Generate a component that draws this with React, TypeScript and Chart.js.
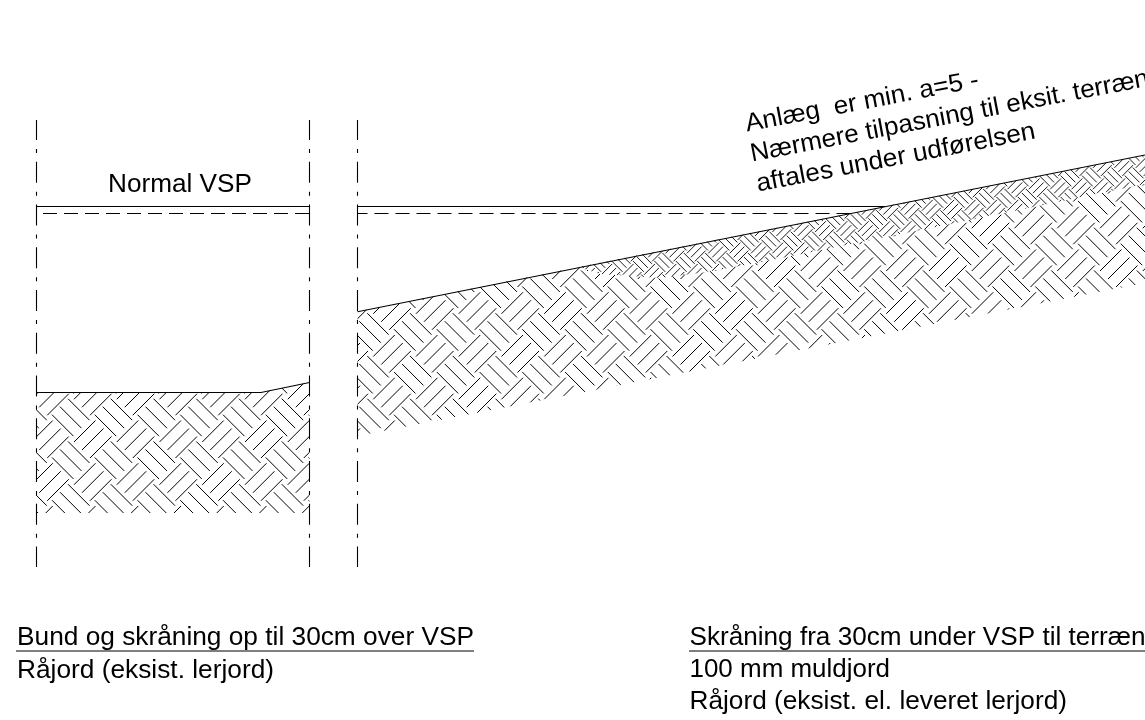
import React, { useEffect, useRef } from "react";
import { Chart, registerables } from "chart.js";

Chart.register(...registerables);

type Pt = { x: number; y: number };
const W = 1145;
const H = 720;

// Drawing geometry, in sheet units
const centerLineXs = [36.5, 309.5, 357.5];
const centerLineTop = 120;
const centerLineBottom = 567;

const vspLeftSolid: Pt[] = [{ x: 36, y: 206.5 }, { x: 309.5, y: 206.5 }];
const vspLeftDashed: Pt[] = [{ x: 36, y: 213.5 }, { x: 309.5, y: 213.5 }];
const vspRightSolid: Pt[] = [{ x: 357.5, y: 206.5 }, { x: 885, y: 206.5 }];
const vspRightDashed: Pt[] = [{ x: 357.5, y: 213.5 }, { x: 853, y: 213.5 }];

const leftGround: Pt[] = [{ x: 36, y: 392.5 }, { x: 261, y: 392.5 }, { x: 309.5, y: 382.5 }];
const rightGround: Pt[] = [{ x: 357.5, y: 311.7 }, { x: 1145, y: 155 }];
const leftUnderline: Pt[] = [{ x: 16, y: 651 }, { x: 474, y: 651 }];
const rightUnderline: Pt[] = [{ x: 689, y: 651 }, { x: 1145, y: 651 }];

// Soil regions
const leftSoil: Pt[] = [
  { x: 36, y: 392 }, { x: 261, y: 392 }, { x: 309.5, y: 382.5 },
  { x: 309.5, y: 513 }, { x: 36, y: 513 },
];
const topsoilLowerEdge: Pt[] = [
  { x: 578, y: 267 }, { x: 600, y: 274 }, { x: 660, y: 278 }, { x: 700, y: 273 },
  { x: 757, y: 263 }, { x: 970, y: 220 }, { x: 1145, y: 184 },
];
const rightTopsoil: Pt[] = [{ x: 578, y: 267 }, { x: 1145, y: 155 }, ...[...topsoilLowerEdge].reverse()];
const rightClay: Pt[] = [
  { x: 357.5, y: 311.7 }, ...topsoilLowerEdge, { x: 1145, y: 283 }, { x: 357.5, y: 436 },
];

// Hatch tile: basket weave, three strokes each way
const hatchPeriod = 42.75;
const hatchLen = 21.5;
const hatchOrigin = { x: 60, y: 406.7 };
const hatchDown = [[-8, 8], [0, 0], [8, -8]];
const hatchUp = [[14, 35.3], [22, 43.3], [30, 51.3]];

const hatchRegions = [
  { points: leftSoil, scale: 1, width: 1 },
  { points: rightClay, scale: 1, width: 1 },
  { points: rightTopsoil, scale: 0.5, width: 0.9 },
];

// Texts
const FONT = '"Liberation Sans", Arial, sans-serif';
const labelTexts = [
  { text: "Normal VSP", x: 108, y: 191.5, size: 25.5, width: 144, angle: 0 },
  { text: "Bund og skråning op til 30cm over VSP", x: 17, y: 645, size: 25.5, width: 457, angle: 0 },
  { text: "Råjord (eksist. lerjord)", x: 17, y: 677.5, size: 25.5, width: 257, angle: 0 },
  { text: "Skråning fra 30cm under VSP til terræn", x: 689.5, y: 645, size: 25.5, width: 456, angle: 0 },
  { text: "100 mm muldjord", x: 689.5, y: 676.5, size: 25.5, width: 200.5, angle: 0 },
  { text: "Råjord (eksist. el. leveret lerjord)", x: 689.5, y: 709, size: 25.5, width: 377.5, angle: 0 },
  { text: "Anlæg  er min. a=5 -", x: 747, y: 131.5, size: 25.5, width: 237, angle: -10.8 },
  { text: "Nærmere tilpasning til eksit. terræn", x: 752, y: 161.5, size: 25.5, width: 405, angle: -10.8 },
  { text: "aftales under udførelsen", x: 758, y: 191.5, size: 25.5, width: 283.5, angle: -10.8 },
];

const hatchPlugin = {
  id: "soilHatch",
  afterDatasetsDraw(chart: any) {
    const { ctx, scales } = chart;
    const sx = (v: number) => scales.x.getPixelForValue(v);
    const sy = (v: number) => scales.y.getPixelForValue(v);
    hatchRegions.forEach(({ points, scale, width }) => {
      ctx.save();
      ctx.beginPath();
      points.forEach((p: Pt, i: number) => (i ? ctx.lineTo(sx(p.x), sy(p.y)) : ctx.moveTo(sx(p.x), sy(p.y))));
      ctx.closePath();
      ctx.clip();
      ctx.strokeStyle = "#000";
      ctx.lineWidth = width;
      ctx.beginPath();
      const period = hatchPeriod * scale;
      const len = hatchLen * scale;
      for (let i = -Math.ceil(hatchOrigin.x / period) - 3; i * period + hatchOrigin.x < W + period; i++) {
        for (let j = -Math.ceil(hatchOrigin.y / period) - 3; j * period + hatchOrigin.y < H + period; j++) {
          const ox = hatchOrigin.x + i * period;
          const oy = hatchOrigin.y + j * period;
          hatchDown.forEach(([a, b]) => {
            ctx.moveTo(sx(ox + a * scale), sy(oy + b * scale));
            ctx.lineTo(sx(ox + a * scale + len), sy(oy + b * scale + len));
          });
          hatchUp.forEach(([a, b]) => {
            ctx.moveTo(sx(ox + a * scale), sy(oy + b * scale));
            ctx.lineTo(sx(ox + a * scale + len), sy(oy + b * scale - len));
          });
        }
      }
      ctx.stroke();
      ctx.restore();
    });
  },
};

const textPlugin = {
  id: "sheetText",
  afterDraw(chart: any) {
    const { ctx, scales } = chart;
    labelTexts.forEach((t) => {
      ctx.save();
      ctx.font = `${t.size}px ${FONT}`;
      ctx.fillStyle = "#000";
      ctx.textBaseline = "alphabetic";
      ctx.textAlign = "left";
      const natural = ctx.measureText(t.text).width;
      ctx.translate(scales.x.getPixelForValue(t.x), scales.y.getPixelForValue(t.y));
      ctx.rotate((t.angle * Math.PI) / 180);
      ctx.scale(t.width / natural, 1);
      ctx.fillText(t.text, 0, 0);
      ctx.restore();
    });
  },
};

const solid = (data: Pt[], lineWidth = 1.1) => ({
  data,
  borderColor: "#000",
  borderWidth: lineWidth,
  showLine: true,
  pointRadius: 0,
  tension: 0,
  fill: false,
});

export default function App() {
  const ref = useRef<HTMLCanvasElement>(null);
  useEffect(() => {
    document.body.style.margin = "0";
    const chart = new Chart(ref.current!, {
      type: "scatter",
      data: {
        datasets: [
          ...centerLineXs.map((x) => ({
            ...solid([{ x, y: centerLineTop }, { x, y: centerLineBottom }]),
            borderDash: [21, 9, 4, 8.75],
            borderDashOffset: 1,
          })),
          solid(vspLeftSolid),
          { ...solid(vspLeftDashed), borderDash: [14, 7], borderDashOffset: 14 },
          solid(vspRightSolid),
          { ...solid(vspRightDashed), borderDash: [14, 7], borderDashOffset: 4 },
          solid(leftGround),
          solid(rightGround),
          solid(leftUnderline),
          solid(rightUnderline),
        ],
      },
      options: {
        responsive: false,
        animation: false,
        layout: { padding: 0 },
        plugins: { legend: { display: false }, tooltip: { enabled: false }, title: { display: false } },
        scales: {
          x: { type: "linear", min: 0, max: W, display: false },
          y: { type: "linear", min: 0, max: H, reverse: true, display: false },
        },
      },
      plugins: [hatchPlugin, textPlugin],
    } as any);
    return () => chart.destroy();
  }, []);
  return (
    <div style={{ position: "absolute", left: 0, top: 0, width: W, height: H, background: "#fff", overflow: "hidden" }}>
      <canvas ref={ref} width={W} height={H} style={{ display: "block" }} />
    </div>
  );
}
